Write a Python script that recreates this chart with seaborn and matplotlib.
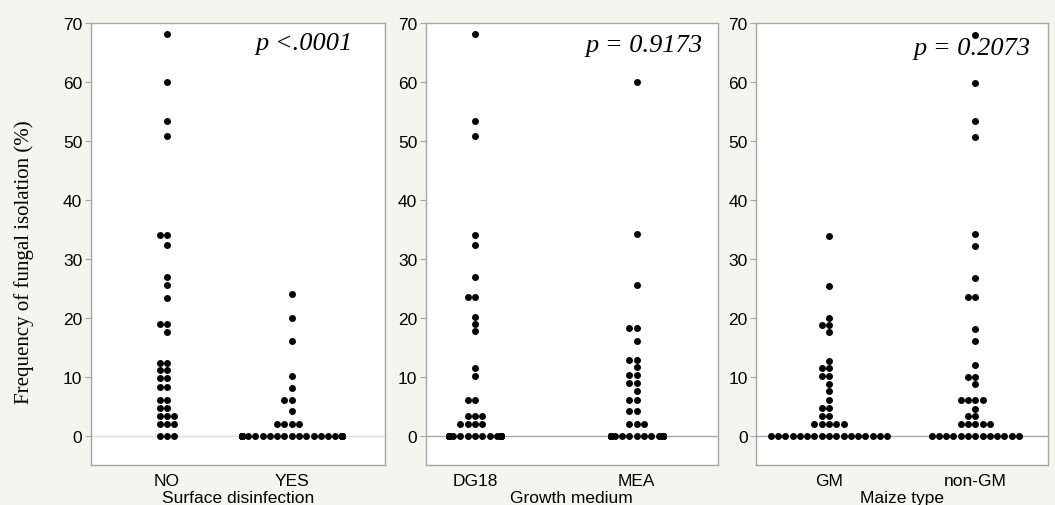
import warnings
warnings.filterwarnings("ignore")
import numpy as np
import matplotlib
matplotlib.use("Agg")
import matplotlib.pyplot as plt
import seaborn as sns
import pandas as pd

# ---------------- data ----------------
no_vals = [68.1, 60.0, 53.4, 50.8, 34.1, 34.1, 32.3, 26.9, 25.6, 23.3,
           18.9, 18.9, 17.6, 12.4, 12.4, 11.1, 11.1, 9.7, 9.7, 8.3, 8.3,
           6.1, 6.1, 4.6, 4.6, 3.3, 3.3, 3.3, 2.0, 2.0, 2.0, 0, 0, 0]
yes_vals = [24.1, 20.0, 16.1, 10.1, 8.1, 6.1, 6.1, 4.1, 2.0, 2.0, 2.0, 2.0] + [0] * 28

dg18_vals = [68.1, 53.4, 50.8, 34.0, 32.4, 26.9, 23.6, 23.6, 20.2, 19.0, 17.7,
             11.5, 10.1, 6.1, 6.1, 3.3, 3.3, 3.3, 2.0, 2.0, 2.0, 2.0] + [0] * 18
mea_vals = [60.0, 34.3, 25.6, 18.3, 18.3, 16.1, 12.9, 12.9, 11.6, 10.2, 10.2,
            8.9, 8.9, 7.5, 6.1, 6.1, 4.1, 4.1, 2.0, 2.0, 2.0] + [0] * 19

gm_vals = [33.9, 25.4, 20.0, 18.8, 18.8, 17.5, 12.7, 11.5, 11.5, 10.1, 10.1,
           8.8, 7.5, 6.0, 4.6, 4.6, 3.3, 3.3, 2.0, 2.0, 2.0, 2.0, 2.0] + [0] * 17
nongm_vals = [68.0, 59.9, 53.4, 50.7, 34.2, 32.2, 26.8, 23.6, 23.6, 18.1, 16.0,
              11.9, 10.0, 10.0, 8.7, 6.1, 6.1, 6.1, 6.1, 4.5, 3.3, 3.3,
              1.9, 1.9, 1.9, 1.9, 1.9] + [0] * 13

factor_labels = ["Surface disinfection", "Growth medium", "Maize type"]
category_labels = [["NO", "YES"], ["DG18", "MEA"], ["GM", "non-GM"]]
group_values = [[no_vals, yes_vals], [dg18_vals, mea_vals], [gm_vals, nongm_vals]]
p_labels = ["p <.0001", "p = 0.9173", "p = 0.2073"]
y_ticks = [0, 10, 20, 30, 40, 50, 60, 70]
y_label = "Frequency of fungal isolation (%)"

# ---------------- layout / style ----------------
W, H = 1055, 506
BG = "#f5f5f0"
SPINE = "#a6a6a6"
sans = ["Liberation Sans Narrow", "Liberation Sans", "DejaVu Sans"]
serif = ["Liberation Serif", "DejaVu Serif"]

sns.set_theme(style="white")
plt.rcParams["font.family"] = sans

panel_px = [(90.7, 385.0), (425.7, 718.0), (756.0, 1048.0)]
top_px, bot_px = 24.3, 466.0
# pixel x of the two category columns in each panel
col_px = [(167.0, 291.7), (475.0, 636.7), (829.0, 975.3)]
# swarm width as a fraction of the category spacing (seaborn default is 0.8)
swarm_frac = [0.8, 0.32, 0.8]
zero_col = ["#dedede", "#a8a8a8", "#a8a8a8"]
p_pos = [(0.891, 0.942), (0.949, 0.937), (0.941, 0.930)]
DOT = 5.0

fig = plt.figure(figsize=(W / 100, H / 100), dpi=100, facecolor=BG)

for i in range(3):
    l, r = panel_px[i]
    rect = [l / W, 1 - bot_px / H, (r - l) / W, (bot_px - top_px) / H]
    ax = fig.add_axes(rect)
    ax.set_facecolor("white")
    cats = category_labels[i]
    pos = [0.0, 1.0]
    xs = [pos[k] for k, v in enumerate(group_values[i]) for _ in v]
    ys = [x for v in group_values[i] for x in v]
    if swarm_frac[i] < 0.8:
        # an empty spacer level narrows seaborn's native swarm width
        xs.append(swarm_frac[i] / 0.8)
        ys.append(np.nan)
    df = pd.DataFrame({"pos": xs, "value": ys})
    ax.axhline(0, color=zero_col[i], lw=1.0, zorder=0.5)
    sns.swarmplot(data=df, x="pos", y="value", native_scale=True, color="black",
                  size=DOT, linewidth=0, warn_thresh=1.0, ax=ax, zorder=2)
    c0, c1 = col_px[i]
    unit = (c1 - c0) / (pos[1] - pos[0])
    ax.set_xlim(pos[0] - (c0 - l) / unit, pos[1] + (r - c1) / unit)
    ax.set_xticks(pos)
    ax.set_xticklabels(cats)
    ax.set_ylim(-5, 70)
    ax.set_yticks(y_ticks)
    ax.set_yticklabels([str(t) for t in y_ticks])
    for s in ax.spines.values():
        s.set_color(SPINE)
        s.set_linewidth(1.0)
        s.set_visible(True)
    ax.tick_params(axis="y", which="both", left=True, length=4, width=0.8,
                   color=SPINE, labelsize=12.5, pad=2, labelcolor="black")
    ax.tick_params(axis="x", length=0, labelsize=12.5, pad=6, labelcolor="black")
    ax.set_xlabel(factor_labels[i], fontsize=12.5, labelpad=1, color="black")
    if i == 0:
        ax.set_ylabel(y_label, family=serif, fontsize=15, color="black")
        ax.yaxis.set_label_coords((34 - l) / (r - l), (bot_px - 262) / (bot_px - top_px))
    else:
        ax.set_ylabel("")
    ax.text(p_pos[i][0], p_pos[i][1], p_labels[i], transform=ax.transAxes,
            ha="right", va="baseline", fontsize=19, family=serif,
            style="italic", color="black", zorder=1)

fig.savefig("out.png", dpi=100, facecolor=BG)
